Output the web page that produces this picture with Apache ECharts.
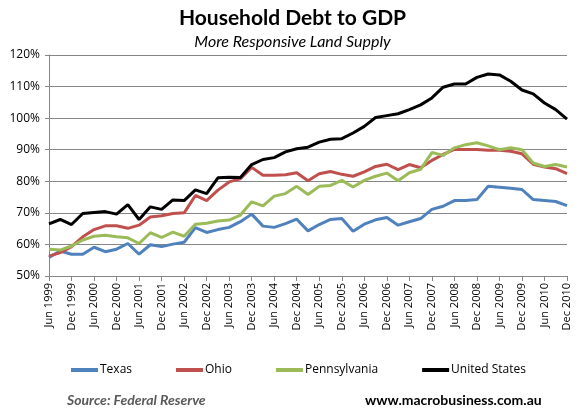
<!DOCTYPE html>
<html><head><meta charset="utf-8">
<script src="https://cdn.jsdelivr.net/npm/echarts@6/dist/echarts.min.js"></script>
<style>html,body{margin:0;padding:0;background:#fff}#c{width:585px;height:414px}</style>
</head><body><div id="c"></div>
<script>
const categories = [];
const years = [1999,2000,2001,2002,2003,2004,2005,2006,2007,2008,2009,2010];
const qNames = ['Mar','Jun','Sep','Dec'];
years.forEach(y => qNames.forEach((q,i) => { if (!(y === 1999 && i === 0)) categories.push(q + ' ' + y); }));

const texas = [55.9,57.9,56.9,56.9,59.1,57.7,58.5,60.3,56.9,59.9,59.3,60.1,60.7,65.3,63.8,64.7,65.4,67.2,69.6,65.8,65.4,66.6,68.0,64.3,66.3,67.9,68.2,64.2,66.4,67.8,68.5,66.1,67.2,68.2,71.1,72.1,73.9,73.9,74.2,78.4,78.1,77.8,77.4,74.2,73.9,73.6,72.3];
const ohio = [56.3,57.4,59.3,62.4,64.7,65.9,65.9,65.1,66.1,68.7,69.1,69.8,70.0,75.5,73.9,77.2,79.8,80.8,84.4,81.9,81.9,82.1,82.7,80.2,82.4,83.1,82.2,81.6,83.0,84.7,85.4,83.7,85.3,84.3,86.6,88.5,90.1,90.1,90.1,89.8,89.8,89.5,88.7,85.4,84.5,84.0,82.4];
const penn = [58.5,58.2,59.5,61.4,62.6,62.9,62.4,62.1,60.3,63.7,62.2,63.9,62.6,66.4,66.7,67.4,67.7,69.3,73.5,72.2,75.3,76.1,78.4,75.8,78.4,78.7,80.3,78.2,80.3,81.6,82.6,80.2,82.7,83.8,89.1,88.2,90.6,91.6,92.2,91.2,90.0,90.6,90.0,85.8,84.7,85.3,84.5];
const us = [66.5,67.9,66.3,69.8,70.1,70.4,69.6,72.6,67.9,71.9,71.1,74.1,73.9,77.3,76.1,81.1,81.3,81.2,85.3,86.9,87.5,89.3,90.3,90.8,92.4,93.3,93.5,95.3,97.4,100.2,100.8,101.4,102.7,104.2,106.4,109.8,110.8,110.8,112.9,114.0,113.7,111.7,108.9,107.7,104.8,102.7,99.7];

const seriesNames = ['Texas','Ohio','Pennsylvania','United States'];
const seriesColors = ['#4F81BD','#C0504D','#9BBB59','#000000'];
const seriesData = [texas, ohio, penn, us];

const chart = echarts.init(document.getElementById('c'), null, {renderer:'canvas'});
chart.setOption({
  animation: false,
  backgroundColor: '#fff',
  title: [
    {text: 'Household Debt to GDP', left: 'center', top: 3,
     textStyle: {fontFamily: 'Lato', fontWeight: 'bold', fontSize: 21, color: '#000'}},
    {text: 'More Responsive Land Supply', left: 'center', top: 29,
     textStyle: {fontFamily: 'Lato', fontStyle: 'italic', fontWeight: 'normal', fontSize: 16, color: '#000'}},
    {text: 'Source: Federal Reserve', left: 62, top: 388,
     textStyle: {fontFamily: 'Lato', fontStyle: 'italic', fontWeight: 'bold', fontSize: 14, color: '#595959'}},
    {text: 'www.macrobusiness.com.au', left: 360, top: 388,
     textStyle: {fontFamily: 'Lato', fontWeight: 'bold', fontSize: 14, color: '#000'}}
  ],
  legend: {
    data: seriesNames, top: 359, left: 66, itemGap: 44, itemWidth: 27, itemHeight: 4, icon: 'rect',
    textStyle: {fontFamily: 'Open Sans', fontSize: 12, color: '#000', padding: [0,0,0,-3]}
  },
  grid: {left: 49, right: 18, top: 55, bottom: 138, containLabel: false},
  xAxis: {
    type: 'category', data: categories, boundaryGap: false,
    axisLine: {lineStyle: {color: '#868686', width: 1}},
    axisTick: {show: true, interval: 1, length: 5, lineStyle: {color: '#868686'}},
    axisLabel: {interval: 1, rotate: 90, margin: 7, fontFamily: 'Open Sans', fontSize: 11, color: '#000'}
  },
  yAxis: {
    type: 'value', min: 50, max: 120, interval: 10,
    axisLine: {show: true, lineStyle: {color: '#868686'}},
    axisTick: {show: true, length: 4, lineStyle: {color: '#868686'}},
    axisLabel: {formatter: '{value}%', fontFamily: 'Open Sans', fontSize: 12, color: '#000', margin: 9},
    splitLine: {lineStyle: {color: '#868686', width: 1}}
  },
  series: seriesNames.map((n,i) => ({
    name: n, type: 'line', data: seriesData[i], symbol: 'none', smooth: false,
    itemStyle: {color: seriesColors[i]},
    lineStyle: {color: seriesColors[i], width: 3}
  }))
});
</script></body></html>
